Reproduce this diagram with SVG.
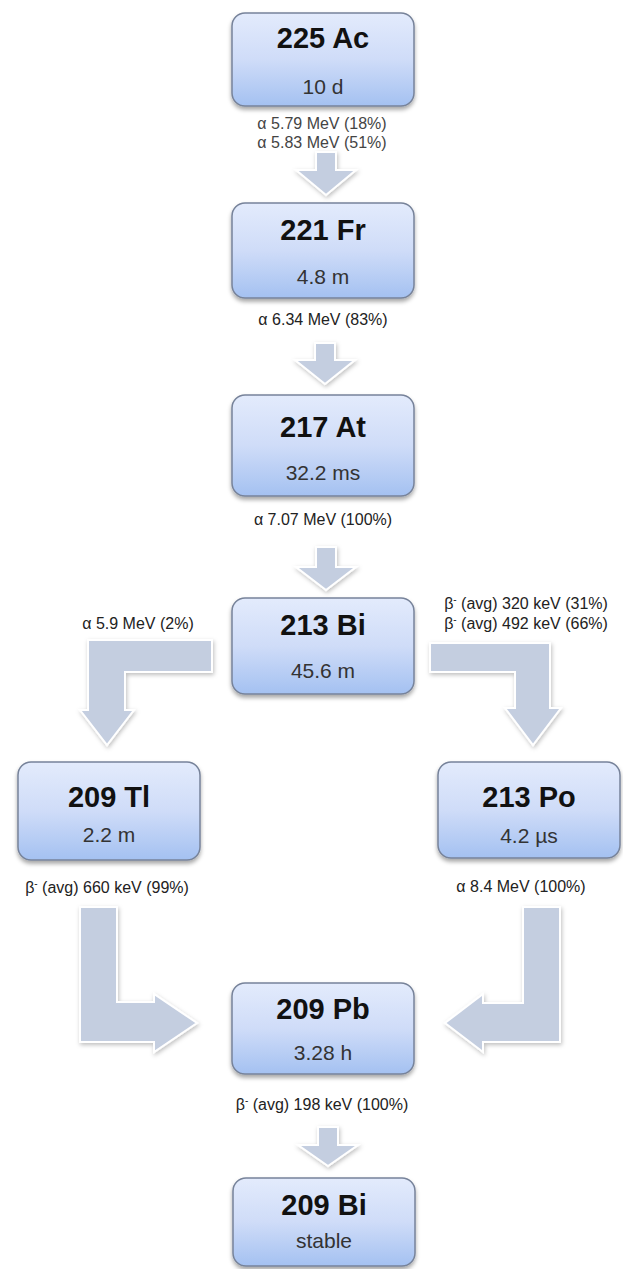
<svg xmlns="http://www.w3.org/2000/svg" width="623" height="1269" viewBox="0 0 623 1269">
<defs>
<linearGradient id="boxg" x1="0" y1="0" x2="0" y2="1">
<stop offset="0" stop-color="#e3ebfc"/>
<stop offset="0.5" stop-color="#cfdcf8"/>
<stop offset="1" stop-color="#a4c1f1"/>
</linearGradient>
<filter id="sh" x="-10%" y="-10%" width="120%" height="130%">
<feDropShadow dx="0" dy="3" stdDeviation="2" flood-color="#000" flood-opacity="0.35"/>
</filter>
<filter id="ash" x="-10%" y="-10%" width="130%" height="130%">
<feDropShadow dx="1" dy="2" stdDeviation="2" flood-color="#000" flood-opacity="0.25"/>
</filter>
</defs>
<style>
.box{fill:url(#boxg);stroke:#77839a;stroke-width:1.5;filter:url(#sh)}
.t{font-family:"Liberation Sans",Arial,sans-serif;font-weight:bold;font-size:29px;fill:#111;text-anchor:middle}
.s{font-family:"Liberation Sans",Arial,sans-serif;font-size:21px;fill:#333;text-anchor:middle}
.l{font-family:"Liberation Sans",Arial,sans-serif;font-size:16px;fill:#222;text-anchor:middle}
.lg{fill:#444}
.sup{font-size:10px}
.arr{fill:#c4cee0;stroke:#fff;stroke-width:2;stroke-linejoin:miter;filter:url(#ash)}
</style>
<rect width="623" height="1269" fill="#fff"/>

<g id="connectors">
<path class="arr" d="M316,152 H336 V170 H356 L326,195 L296,170 H316 Z"/>
<path class="arr" d="M315,343 H335 V360 H355 L325,384 L295,360 H315 Z"/>
<path class="arr" d="M316,547 H336 V567 H356 L326,590 L296,567 H316 Z"/>
<path class="arr" d="M318,1127 H338 V1145 H358 L328,1166 L298,1145 H318 Z"/>
<path class="arr" d="M212,640 H88 V710 H80 L107,745 L134,710 H125 V672 H212 Z"/>
<path class="arr" d="M430,643 H550 V708 H561 L533,745 L505,708 H515 V672 H430 Z"/>
<path class="arr" d="M80,907 H117 V1002 H154 V994 L197,1023 L154,1052 V1042 H80 Z"/>
<path class="arr" d="M560,907 H523 V1003 H483 V994 L445,1023 L483,1052 V1042 H560 Z"/>
</g>

<g id="labels">
<text class="l lg" x="322" y="129">α 5.79 MeV (18%)</text>
<text class="l lg" x="322" y="148">α 5.83 MeV (51%)</text>
<text class="l" x="323" y="325">α 6.34 MeV (83%)</text>
<text class="l" x="323" y="525">α 7.07 MeV (100%)</text>
<text class="l" x="138" y="629">α 5.9 MeV (2%)</text>
<text class="l" x="526" y="609">β<tspan class="sup" dy="-6">-</tspan><tspan dy="6"> (avg) 320 keV (31%)</tspan></text>
<text class="l" x="526" y="629">β<tspan class="sup" dy="-6">-</tspan><tspan dy="6"> (avg) 492 keV (66%)</tspan></text>
<text class="l" x="107" y="893">β<tspan class="sup" dy="-6">-</tspan><tspan dy="6"> (avg) 660 keV (99%)</tspan></text>
<text class="l" x="521" y="892">α 8.4 MeV (100%)</text>
<text class="l" x="322" y="1110">β<tspan class="sup" dy="-6">-</tspan><tspan dy="6"> (avg) 198 keV (100%)</tspan></text>
</g>

<g id="ac225">
<rect class="box" x="232" y="13" width="182" height="93" rx="13"/>
<text class="t" x="323" y="48">225 Ac</text>
<text class="s" x="323" y="94">10 d</text>
</g>
<g id="fr221">
<rect class="box" x="232" y="203" width="182" height="95" rx="13"/>
<text class="t" x="323" y="240">221 Fr</text>
<text class="s" x="323" y="284">4.8 m</text>
</g>
<g id="at217">
<rect class="box" x="232" y="395" width="182" height="101" rx="13"/>
<text class="t" x="323" y="437">217 At</text>
<text class="s" x="323" y="480">32.2 ms</text>
</g>
<g id="bi213">
<rect class="box" x="232" y="598" width="182" height="96" rx="13"/>
<text class="t" x="323" y="635">213 Bi</text>
<text class="s" x="323" y="678">45.6 m</text>
</g>
<g id="tl209">
<rect class="box" x="18" y="762" width="182" height="98" rx="13"/>
<text class="t" x="109" y="807">209 Tl</text>
<text class="s" x="109" y="842">2.2 m</text>
</g>
<g id="po213">
<rect class="box" x="438" y="762" width="182" height="96" rx="13"/>
<text class="t" x="529" y="807">213 Po</text>
<text class="s" x="529" y="843">4.2 µs</text>
</g>
<g id="pb209">
<rect class="box" x="232" y="983" width="182" height="91" rx="13"/>
<text class="t" x="323" y="1019">209 Pb</text>
<text class="s" x="323" y="1060">3.28 h</text>
</g>
<g id="bi209">
<rect class="box" x="233" y="1178" width="182" height="88" rx="13"/>
<text class="t" x="324" y="1215">209 Bi</text>
<text class="s" x="324" y="1248">stable</text>
</g>
</svg>
